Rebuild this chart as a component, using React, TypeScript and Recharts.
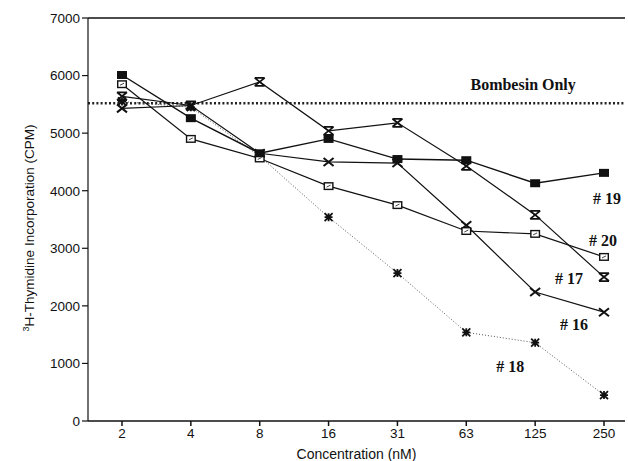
import React from "react";
import {
  LineChart,
  Line,
  XAxis,
  YAxis,
  ReferenceLine,
  ReferenceDot,
} from "recharts";

const concentrations = ["2", "4", "8", "16", "31", "63", "125", "250"];
const peptide19 = [6010, 5260, 4650, 4900, 4550, 4530, 4130, 4310];
const peptide20 = [5850, 4900, 4560, 4080, 3750, 3300, 3250, 2850];
const peptide17 = [5640, 5480, 5890, 5040, 5180, 4430, 3580, 2500];
const peptide16 = [5430, 5480, 4650, 4500, 4480, 3400, 2240, 1890];
const peptide18 = [5550, 5450, 4600, 3540, 2570, 1540, 1360, 450];
const bombesinOnly = 5520;
const yTicks = [0, 1000, 2000, 3000, 4000, 5000, 6000, 7000];

const data = concentrations.map((c, i) => ({
  conc: c,
  p19: peptide19[i],
  p20: peptide20[i],
  p17: peptide17[i],
  p16: peptide16[i],
  p18: peptide18[i],
}));

// annotation text anchored in data units: [text, category, value, dx]
const notes: [string, string, number, number][] = [
  ["Bombesin Only", "125", 5840, -12],
  ["# 19", "250", 3870, 3],
  ["# 20", "250", 3140, -1],
  ["# 17", "250", 2480, -35],
  ["# 16", "250", 1670, -30],
  ["# 18", "125", 940, -25],
];

type Shape = "filled" | "open" | "hourglass" | "cross" | "asterisk";

function Marker({ cx, cy, shape }: { cx?: number; cy?: number; shape: Shape }) {
  if (cx == null || cy == null) return null;
  const w = 5;
  const h = 4;
  if (shape === "filled")
    return <rect x={cx - w} y={cy - h} width={w * 2} height={h * 2} fill="#111" />;
  if (shape === "open")
    return (
      <g>
        <rect x={cx - w + 0.7} y={cy - h + 0.7} width={w * 2 - 1.4} height={h * 2 - 1.4} fill="#fff" stroke="#111" strokeWidth={1.4} />
        <line x1={cx - 2} y1={cy + 1} x2={cx + 2} y2={cy - 1} stroke="#111" strokeWidth={0.8} />
      </g>
    );
  if (shape === "hourglass")
    return (
      <path
        d={`M${cx - w},${cy - h} L${cx + w},${cy - h} M${cx - w},${cy + h} L${cx + w},${cy + h} M${cx - w},${cy - h} L${cx + w},${cy + h} M${cx + w},${cy - h} L${cx - w},${cy + h}`}
        stroke="#111"
        strokeWidth={1.8}
        fill="none"
      />
    );
  if (shape === "cross")
    return (
      <path
        d={`M${cx - w},${cy - h} L${cx + w},${cy + h} M${cx + w},${cy - h} L${cx - w},${cy + h}`}
        stroke="#111"
        strokeWidth={2}
        fill="none"
      />
    );
  return (
    <path
      d={`M${cx - 4},${cy - 4} L${cx + 4},${cy + 4} M${cx + 4},${cy - 4} L${cx - 4},${cy + 4} M${cx},${cy - 4} L${cx},${cy + 4} M${cx - 4},${cy} L${cx + 4},${cy}`}
      stroke="#111"
      strokeWidth={1.8}
      fill="none"
    />
  );
}

const dotFor = (shape: Shape) => (p: any) =>
  <Marker key={`${shape}-${p.index}`} cx={p.cx} cy={p.cy} shape={shape} />;

function NoteLabel(props: any) {
  const { viewBox, value, dx } = props;
  const x = viewBox.x + viewBox.width / 2 + dx;
  const y = viewBox.y + viewBox.height / 2;
  return (
    <text
      x={x}
      y={y}
      textAnchor="middle"
      dominantBaseline="central"
      fontFamily="'Liberation Serif', 'Times New Roman', serif"
      fontWeight="bold"
      fontSize={16}
      fill="#111"
    >
      {value}
    </text>
  );
}

function YLabel() {
  return (
    <text
      transform="translate(34,228) rotate(-90)"
      textAnchor="middle"
      fontFamily="'Liberation Sans', Arial, sans-serif"
      fontSize={13.5}
      fill="#111"
    >
      <tspan fontSize={9} dy={-5}>3</tspan>
      <tspan dy={5}>H-Thymidine Incorporation (CPM)</tspan>
    </text>
  );
}

export default function App() {
  return (
    <div style={{ position: "absolute", left: 0, top: 0, width: 628, height: 461, background: "#fff" }}>
      <LineChart
        width={628}
        height={461}
        data={data}
        margin={{ top: 18, right: 3, bottom: 0, left: 0 }}
        style={{ fontFamily: "'Liberation Sans', Arial, sans-serif" }}
      >
        <XAxis
          dataKey="conc"
          height={40}
          padding={{ left: 34, right: 21 }}
          stroke="#111"
          strokeWidth={1.5}
          tickSize={5}
          tickMargin={2}
          tick={{ fill: "#111", fontSize: 13.5 }}
          label={{ value: "Concentration (nM)", position: "insideBottom", offset: 2, fill: "#111", fontSize: 14 }}
        />
        <YAxis
          width={88}
          domain={[0, 7000]}
          ticks={yTicks}
          interval={0}
          stroke="#111"
          strokeWidth={1.2}
          tickSize={6}
          tickMargin={2}
          tick={{ fill: "#111", fontSize: 13.5 }}
          label={<YLabel />}
        />
        <ReferenceLine y={7000} stroke="#111" strokeWidth={1.5} />
        <ReferenceLine y={bombesinOnly} stroke="#222" strokeWidth={2.6} strokeDasharray="2 2.2" />
        <Line type="linear" dataKey="p18" stroke="#555" strokeWidth={1} strokeDasharray="1 2" dot={dotFor("asterisk")} isAnimationActive={false} />
        <Line type="linear" dataKey="p16" stroke="#111" strokeWidth={1.2} dot={dotFor("cross")} isAnimationActive={false} />
        <Line type="linear" dataKey="p17" stroke="#111" strokeWidth={1.2} dot={dotFor("hourglass")} isAnimationActive={false} />
        <Line type="linear" dataKey="p20" stroke="#111" strokeWidth={1.2} dot={dotFor("open")} isAnimationActive={false} />
        <Line type="linear" dataKey="p19" stroke="#111" strokeWidth={1.4} dot={dotFor("filled")} isAnimationActive={false} />
        {notes.map(([text, cat, val, dx]) => (
          <ReferenceDot
            key={text}
            x={cat}
            y={val}
            r={0}
            fill="none"
            stroke="none"
            ifOverflow="visible"
            label={<NoteLabel value={text} dx={dx} />}
          />
        ))}
      </LineChart>
    </div>
  );
}
